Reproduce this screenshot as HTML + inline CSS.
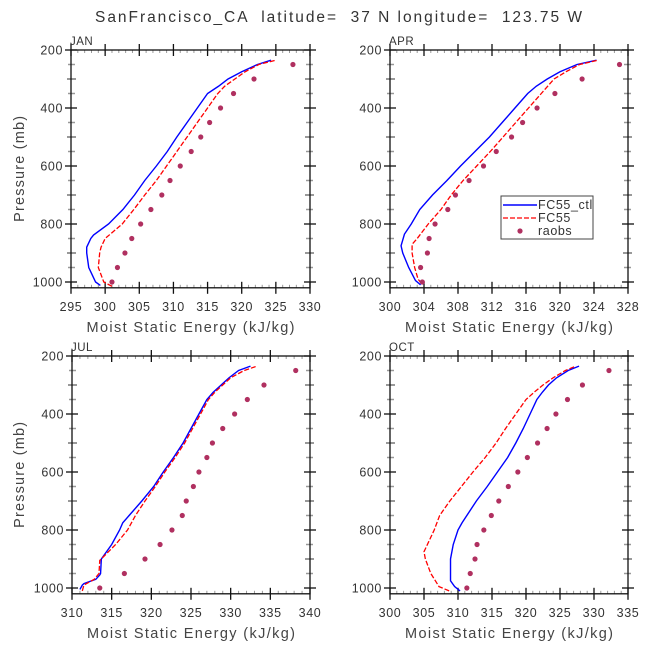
<!DOCTYPE html>
<html><head><meta charset="utf-8"><style>
html,body{margin:0;padding:0;background:#fff;}
svg{display:block;font-family:"Liberation Sans",sans-serif;}
</style></head><body>
<svg id="c" width="648" height="648" viewBox="0 0 648 648" xmlns="http://www.w3.org/2000/svg">
<text x="95" y="22" textLength="487" lengthAdjust="spacing" font-size="15.5" fill="#333" style="white-space:pre">SanFrancisco_CA  latitude=  37 N longitude=  123.75 W</text>
</svg>
<script>
// ---- data ----
const levels = [1000,950,900,850,800,750,700,650,600,550,500,450,400,350,300,250];
const janRaobs = [301,301.8,302.9,303.9,305.2,306.7,308.3,309.5,311,312.6,314,315.3,316.9,318.8,321.8,327.5];
const janCtlP = [1012,1000,950,900,880,850,838,800,750,700,650,600,550,500,450,400,350,325,300,275,250,235];
const janCtlV = [299.3,298.6,297.6,297.3,297.3,297.9,298.3,300.5,302.6,304.3,305.8,307.5,309.1,310.5,312,313.5,315,316.6,318,320,322.3,324.3];
const janFcP = [1015,1005,1000,950,900,880,850,830,800,750,700,650,600,550,500,450,400,350,325,300,275,250,235];
const janFcV = [301,300.2,299.8,299,299.2,299.4,300,301,302.5,304.2,305.8,307.5,309,310.5,312,313.5,315,316.5,317.5,319,320.5,322.5,325];

const aprRaobs = [303.8,303.6,304.4,304.6,305.3,306.8,307.7,309.3,311,312.5,314.3,315.6,317.3,319.4,322.6,327];
const aprCtlP = [1010,995,950,900,875,835,800,750,700,650,600,550,500,450,400,350,325,300,275,250,235];
const aprCtlV = [303.6,303,302.2,301.5,301.3,301.7,302.5,303.5,305,306.7,308.3,310,311.7,313.2,314.7,316.2,317.2,318.5,320,322,324.3];
const aprFcP = [1005,990,950,900,870,850,800,750,700,650,600,550,500,450,400,350,300,275,250,235];
const aprFcV = [303.7,303.3,302.9,302.6,302.6,303.2,304.5,306,307.2,308.6,310.2,311.8,313.3,314.8,316.3,317.8,319.3,320.7,322.3,324.5];

const julRaobs = [313.5,316.6,319.2,321.1,322.6,323.9,324.4,325.3,326,327,327.7,329,330.5,332.1,334.2,338.2];
const julCtlP = [1005,990,985,970,955,950,900,850,800,775,750,700,650,600,550,500,450,400,350,325,300,275,250,235];
const julCtlV = [311,311.3,311.5,313,313.5,313.6,313.7,315,316,316.4,317.2,318.8,320.3,321.5,322.8,324,325,326,327,327.8,328.8,329.8,331,332.5];
const julFcP = [1010,990,970,950,905,850,800,750,700,650,600,550,500,450,400,350,325,300,275,250,235];
const julFcV = [311.3,311.5,312.8,313.4,313.5,315.5,317,318,319.2,320.5,321.7,323,324.2,325.2,326.2,327.2,328,329,330,331.7,333.3];

const octRaobs = [311.3,311.8,312.5,312.8,313.8,314.9,316,317.4,318.8,320.2,321.7,323.1,324.4,326.1,328.3,332.2];
const octCtlP = [1010,995,975,950,900,850,800,775,700,650,600,550,500,450,400,350,325,300,275,250,235];
const octCtlV = [310.3,309.5,308.9,308.9,308.9,309.3,310,310.6,312.7,314.3,315.8,317.3,318.5,319.6,320.6,321.6,322.4,323.3,324.5,326.2,327.8];
const octFcP = [1010,995,950,900,875,850,800,750,700,650,600,550,500,450,400,350,325,300,275,250,235];
const octFcV = [308.7,307.2,306,305.2,305,305.5,306.5,307.3,308.8,310.5,312.2,314,315.6,317,318.5,320,321.2,322.5,324,325.8,327.3];

const janTicks = [295,300,305,310,315,320,325,330];
const aprTicks = [300,304,308,312,316,320,324,328];
const julTicks = [310,315,320,325,330,335,340];
const octTicks = [300,305,310,315,320,325,330,335];
const pTicks = [200,400,600,800,1000];

const panels = [
 {name:'jan',label:'JAN',x0:71,x1:310,y0:50,xmin:295,xmax:330,ticks:janTicks,raobs:janRaobs,ctlP:janCtlP,ctlV:janCtlV,fcP:janFcP,fcV:janFcV,ylab:true,legend:false},
 {name:'apr',label:'APR',x0:390,x1:628,y0:50,xmin:300,xmax:328,ticks:aprTicks,raobs:aprRaobs,ctlP:aprCtlP,ctlV:aprCtlV,fcP:aprFcP,fcV:aprFcV,ylab:false,legend:true},
 {name:'jul',label:'JUL',x0:72,x1:310,y0:356,xmin:310,xmax:340,ticks:julTicks,raobs:julRaobs,ctlP:julCtlP,ctlV:julCtlV,fcP:julFcP,fcV:julFcV,ylab:true,legend:false},
 {name:'oct',label:'OCT',x0:390,x1:628,y0:356,xmin:300,xmax:335,ticks:octTicks,raobs:octRaobs,ctlP:octCtlP,ctlV:octCtlV,fcP:octFcP,fcV:octFcV,ylab:false,legend:false}
];
const NS='http://www.w3.org/2000/svg';
const svg=document.getElementById('c');
function mk(tag,attrs,parent){const e=document.createElementNS(NS,tag);for(const k in attrs)e.setAttribute(k,attrs[k]);(parent||svg).appendChild(e);return e;}
const pxPerMb=232/800;
panels.forEach(pn=>{
  const g=mk('g',{});
  
  
  const xs=v=>pn.x0+(v-pn.xmin)/(pn.xmax-pn.xmin)*(pn.x1-pn.x0);
  const ys=p=>pn.y0+(p-200)*pxPerMb;
  const yb=ys(1020);
  for(let p=250;p<=1000;p+=100){
    mk('line',{x1:pn.x0-3,x2:pn.x0+4,y1:ys(p),y2:ys(p),stroke:'#999','stroke-width':1.5},g);
    mk('line',{x1:pn.x1-4,x2:pn.x1+3,y1:ys(p),y2:ys(p),stroke:'#999','stroke-width':1.5},g);
  }
  for(let p=300;p<=900;p+=200){
    mk('line',{x1:pn.x0-4,x2:pn.x0+5,y1:ys(p),y2:ys(p),stroke:'#333','stroke-width':1},g);
    mk('line',{x1:pn.x1-5,x2:pn.x1+4,y1:ys(p),y2:ys(p),stroke:'#333','stroke-width':1},g);
  }
  const step=pn.ticks[1]-pn.ticks[0];
  const mstep=step/5;
  for(let v=pn.xmin;v<=pn.xmax+1e-6;v+=mstep){
    const x=xs(v);
    mk('line',{x1:x,x2:x,y1:pn.y0,y2:pn.y0+3,stroke:'#999','stroke-width':1},g);
    mk('line',{x1:x,x2:x,y1:yb-3,y2:yb,stroke:'#999','stroke-width':1},g);
  }
  pTicks.forEach(p=>{
    const y=ys(p);
    mk('line',{x1:pn.x0-6,x2:pn.x0+6,y1:y,y2:y,stroke:'#111','stroke-width':1.3},g);
    mk('line',{x1:pn.x1-6,x2:pn.x1+6,y1:y,y2:y,stroke:'#111','stroke-width':1.3},g);
    const t=mk('text',{x:pn.x0-8,y:y+4.5,'text-anchor':'end','font-size':12.5,fill:'#333','letter-spacing':0.6},g);t.textContent=p;
    
    
  });
  pn.ticks.forEach(v=>{
    const x=xs(v);
    mk('line',{x1:x,x2:x,y1:pn.y0-6,y2:pn.y0+6,stroke:'#111','stroke-width':1.3},g);
    mk('line',{x1:x,x2:x,y1:yb-6,y2:yb+6,stroke:'#111','stroke-width':1.3},g);
    const t=mk('text',{x:x,y:yb+23,'text-anchor':'middle','font-size':12.5,fill:'#333','letter-spacing':0.6},g);t.textContent=v;
    
    
  });
  const fr=mk('rect',{x:pn.x0,y:pn.y0,width:pn.x1-pn.x0,height:yb-pn.y0,fill:'none',stroke:'#111','stroke-width':1.3},g);
  
  
  const lb=mk('text',{x:pn.x0-1,y:pn.y0-5,'font-size':11.5,fill:'#333','letter-spacing':0.5},g);lb.textContent=pn.label;
  
  
  const xc=(pn.x0+pn.x1)/2;
  const xl=mk('text',{x:xc-104,y:yb+44,textLength:208,lengthAdjust:'spacing','font-size':14.5,fill:'#444'},g);xl.textContent='Moist Static Energy (kJ/kg)';
  
  
  if(pn.ylab){
    const cy=(pn.y0+yb)/2;
    const yl=mk('text',{x:19-53,y:cy,textLength:106,lengthAdjust:'spacing','font-size':14.5,fill:'#444',transform:`rotate(-90 19 ${cy}) translate(0 0)`},g);
    yl.setAttribute('x',19-53);
    yl.setAttribute('y',cy+5);
    yl.setAttribute('transform',`rotate(-90 19 ${cy})`);
    yl.textContent='Pressure (mb)';
    
    
  }
  const ctl=mk('polyline',{points:pn.ctlP.map((p,i)=>xs(pn.ctlV[i])+','+ys(p)).join(' '),fill:'none',stroke:'#0000ff','stroke-width':1.4},g);
  
  
  const fc=mk('polyline',{points:pn.fcP.map((p,i)=>xs(pn.fcV[i])+','+ys(p)).join(' '),fill:'none',stroke:'#ff0000','stroke-width':1.3,'stroke-dasharray':'5,2'},g);
  
  
  pn.raobs.forEach((v,i)=>{
    const c=mk('circle',{cx:xs(v),cy:ys(levels[i]),r:2.6,fill:'#b03060'},g);
    
    
  });
  if(pn.legend){
    const lg=mk('g',{},g);
    
    
    mk('rect',{x:501,y:196,width:92,height:43,fill:'#fff',stroke:'#444','stroke-width':1},lg);
    mk('line',{x1:503,x2:537,y1:205,y2:205,stroke:'#0000ff','stroke-width':1.4},lg);
    mk('line',{x1:503,x2:537,y1:218,y2:218,stroke:'#ff0000','stroke-width':1.3,'stroke-dasharray':'5,2'},lg);
    mk('circle',{cx:520,cy:231,r:2.6,fill:'#b03060'},lg);
    [['FC55_ctl',209],['FC55',222],['raobs',235]].forEach(([s,y])=>{
      const t=mk('text',{x:538,y:y,'font-size':12.5,fill:'#333','letter-spacing':0.6},lg);t.textContent=s;
      
      
    });
  }
});
</script>
</body></html>
